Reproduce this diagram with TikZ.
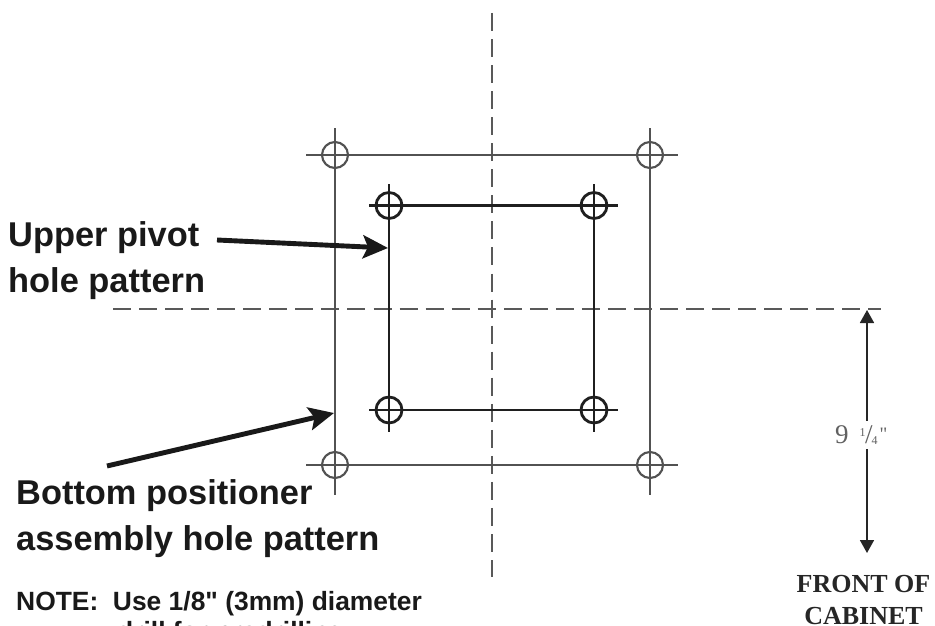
\documentclass[tikz,border=0pt]{standalone}
\usepackage{fontspec}
\setmainfont[Ligatures=TeXOff]{Liberation Serif}
\setsansfont[Ligatures=TeXOff]{Liberation Sans}
\usetikzlibrary{arrows.meta}
\tikzset{
  outerline/.style={draw=black!68,line width=2.1pt},
  innerline/.style={draw=black!88,line width=2.6pt},
  outerhole/.style={circle,draw=black!68,line width=2.1pt,minimum size=26pt,inner sep=0pt},
  innerhole/.style={circle,draw=black!88,line width=2.8pt,minimum size=26pt,inner sep=0pt},
  centerline/.style={draw=black!65,line width=2.2pt,dash pattern=on 18pt off 8.05pt},
  callout/.style={draw=black!90,line width=4.9pt,-{Stealth[length=25pt,width=23pt,inset=5pt]}},
  calloutlabel/.style={font=\sffamily\bfseries\fontsize{34.4}{45.5}\selectfont,text=black!90,align=left,anchor=base west,inner sep=0pt},
  notelabel/.style={font=\sffamily\bfseries\fontsize{26.4}{30}\selectfont,text=black!90,align=left,anchor=base west,inner sep=0pt},
  dimline/.style={draw=black!85,line width=1.8pt,{Triangle[length=13pt,width=14pt]}-{Triangle[length=13pt,width=14pt]}}
}
\begin{document}
\begin{tikzpicture}[x=1pt,y=-1pt]
\useasboundingbox (0,0) rectangle (935,626);
\clip (0,0) rectangle (935,626);
% centre lines
\coordinate (vt) at (492.3,13);
\coordinate (vb) at (492.3,577);
\coordinate (hl) at (113,309.3);
\coordinate (hr) at (881,309.3);
\draw[centerline] (vt) -- (vb);
\draw[centerline] (hl) -- (hr);
% outer pattern
\node[outerhole] (o1) at (335,155) {};
\node[outerhole] (o2) at (650,155) {};
\node[outerhole] (o3) at (335,465) {};
\node[outerhole] (o4) at (650,465) {};
\draw[outerline] (306,155) -- (678,155);
\draw[outerline] (306,465) -- (678,465);
\draw[outerline] (335,128) -- (335,495);
\draw[outerline] (650,128) -- (650,495);
% inner pattern
\node[innerhole] (i1) at (389,205.5) {};
\node[innerhole] (i2) at (594,205.5) {};
\node[innerhole] (i3) at (389,410) {};
\node[innerhole] (i4) at (594,410) {};
\draw[innerline] (369,205.5) -- (618,205.5);
\draw[innerline] (369,410) -- (618,410);
\draw[innerline] (389,184) -- (389,432);
\draw[innerline] (594,184) -- (594,432);
% labels
\node[calloutlabel] (upper) at (8,292) {Upper pivot\\hole pattern};
\node[calloutlabel] (bottom) at (16,550) {Bottom positioner\\assembly hole pattern};
\node[notelabel] (note) at (16,640) {NOTE:\ \ Use 1/8" (3mm) diameter\\\hspace*{101pt}drill for predrilling};
% callouts
\coordinate (uf) at (217,240);
\coordinate (ut) at (388,248);
\coordinate (bf) at (107,466);
\coordinate (bt) at (334,413);
\draw[callout] (uf) -- (ut);
\draw[callout] (bf) -- (bt);
% dimension
\coordinate (dt) at (867,310);
\coordinate (db) at (867,553);
\draw[dimline] (dt) -- (db);
\node[fill=white,text=black!62,inner sep=0pt,anchor=base west,minimum height=28pt,text height=22pt,text depth=6pt] (dim) at (835,443)
  {\fontsize{27}{27}\selectfont 9\hspace{11pt}\raisebox{7pt}{\fontsize{12}{12}\selectfont 1}\hspace{-0.5pt}{\fontsize{27}{27}\selectfont /}\hspace{-1pt}\raisebox{-1pt}{\fontsize{12}{12}\selectfont 4}\hspace{2pt}\raisebox{3pt}{\fontsize{19}{19}\selectfont "}};
\node[font=\rmfamily\bfseries\fontsize{26}{32}\selectfont,text=black!85,align=center,inner sep=0pt,anchor=base] (front) at (863.5,624) {FRONT OF\\CABINET};
\end{tikzpicture}
\end{document}
